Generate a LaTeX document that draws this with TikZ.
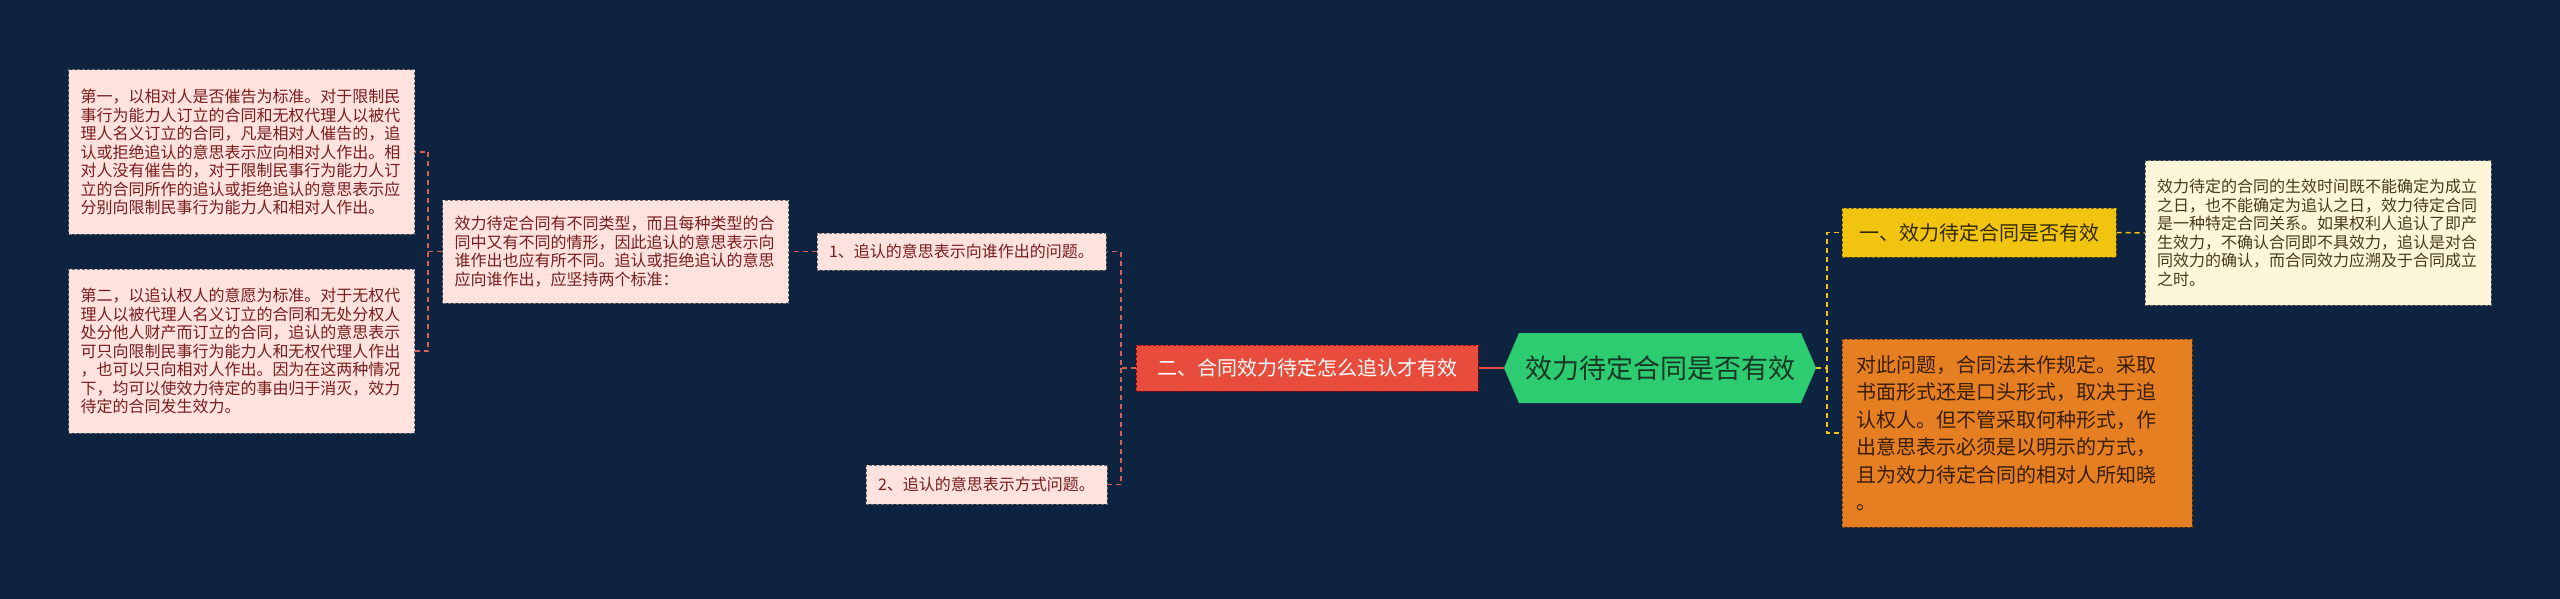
\documentclass[tikz,border=0pt]{standalone}
\usepackage{fontspec}
\newfontfamily\cjk{Noto Sans CJK SC}
\usetikzlibrary{backgrounds}
\definecolor{bg}{RGB}{14,35,64}
\definecolor{pinkfill}{RGB}{253,226,222}
\definecolor{pinktext}{RGB}{120,30,30}
\definecolor{redfill}{RGB}{231,76,60}
\definecolor{greenfill}{RGB}{46,204,113}
\definecolor{greentext}{RGB}{24,56,38}
\definecolor{yelfill}{RGB}{241,196,15}
\definecolor{yeltext}{RGB}{50,40,5}
\definecolor{paleyfill}{RGB}{253,246,216}
\definecolor{paleytext}{RGB}{70,60,25}
\definecolor{orfill}{RGB}{230,126,34}
\definecolor{ortext}{RGB}{55,30,10}
\definecolor{bordergray}{RGB}{110,110,110}
\definecolor{redline}{RGB}{214,96,84}
\tikzset{
  boxbase/.style={draw=bordergray, line width=1pt, dash pattern=on 3pt off 2pt, anchor=center},
  pinkpara/.style={boxbase, fill=pinkfill, text=pinktext, align=left, inner xsep=12pt, inner ysep=0pt,
    font=\cjk\fontsize{16}{18.5}\selectfont},
  pinkline/.style={boxbase, fill=pinkfill, text=pinktext, inner sep=0pt, font=\cjk\fontsize{16}{19}\selectfont},
  redbox/.style={boxbase, draw=red!60!black, fill=redfill, text=white, inner sep=0pt, font=\cjk\fontsize{20}{24}\selectfont},
  yelbox/.style={boxbase, draw=yelfill!50!black, fill=yelfill, text=yeltext, inner sep=0pt, font=\cjk\fontsize{20}{24}\selectfont},
  paleypara/.style={boxbase, fill=paleyfill, text=paleytext, align=left, inner xsep=12pt, inner ysep=0pt,
    font=\cjk\fontsize{16}{18.5}\selectfont},
  orpara/.style={boxbase, draw=orfill!50!black, fill=orfill, text=ortext, align=left, inner xsep=14pt, inner ysep=0pt,
    font=\cjk\fontsize{20}{27.5}\selectfont},
  redconn/.style={draw=redline, line width=1.5pt, dash pattern=on 5pt off 4pt},
  yelconn/.style={draw=yelfill, line width=1.5pt, dash pattern=on 5pt off 4pt},
}
\begin{document}
\begin{tikzpicture}[x=1pt,y=-1pt]
\begin{scope}[on background layer]
\fill[bg] (0,0) rectangle (2560,599);
\fill[greenfill] (1504,368) -- (1519,333) -- (1801,333) -- (1816,368) -- (1801,403) -- (1519,403) -- cycle;
\end{scope}
\useasboundingbox (0,0) rectangle (2560,599);

\node[pinkpara, text width=322pt, minimum height=164pt] (l1) at (241.5,152) {第一，以相对人是否催告为标准。对于限制民\\事行为能力人订立的合同和无权代理人以被代\\理人名义订立的合同，凡是相对人催告的，追\\认或拒绝追认的意思表示应向相对人作出。相\\对人没有催告的，对于限制民事行为能力人订\\立的合同所作的追认或拒绝追认的意思表示应\\分别向限制民事行为能力人和相对人作出。};

\node[pinkpara, text width=322pt, minimum height=164pt] (l2) at (241.5,351) {第二，以追认权人的意愿为标准。对于无权代\\理人以被代理人名义订立的合同和无处分权人\\处分他人财产而订立的合同，追认的意思表示\\可只向限制民事行为能力人和无权代理人作出\\，也可以只向相对人作出。因为在这两种情况\\下，均可以使效力待定的事由归于消灭，效力\\待定的合同发生效力。};

\node[pinkpara, text width=322pt, minimum height=103pt] (m) at (615.5,251.5) {效力待定合同有不同类型，而且每种类型的合\\同中又有不同的情形，因此追认的意思表示向\\谁作出也应有所不同。追认或拒绝追认的意思\\应向谁作出，应坚持两个标准：};

\node[pinkline, minimum width=289pt, minimum height=37pt] (b1) at (961.5,251.5) {1、追认的意思表示向谁作出的问题。};
\node[pinkline, minimum width=241pt, minimum height=39pt] (b2) at (986.5,484.5) {2、追认的意思表示方式问题。};

\node[redbox, minimum width=342pt, minimum height=46pt] (red) at (1307,368) {二、合同效力待定怎么追认才有效};

\node[inner sep=0pt, minimum width=312pt, minimum height=70pt, text=greentext, font=\cjk\fontsize{27}{32}\selectfont] (hex) at (1660,368) {效力待定合同是否有效};

\node[yelbox, minimum width=274pt, minimum height=49pt] (yel) at (1979,232.5) {一、效力待定合同是否有效};

\node[paleypara, text width=322pt, minimum height=144pt] (paley) at (2318,233) {效力待定的合同的生效时间既不能确定为成立\\之日，也不能确定为追认之日，效力待定合同\\是一种特定合同关系。如果权利人追认了即产\\生效力，不确认合同即不具效力，追认是对合\\同效力的确认，而合同效力应溯及于合同成立\\之时。};

\node[orpara, text width=322pt, minimum height=188pt] (or) at (2017,433) {对此问题，合同法未作规定。采取\\书面形式还是口头形式，取决于追\\认权人。但不管采取何种形式，作\\出意思表示必须是以明示的方式，\\且为效力待定合同的相对人所知晓\\。};

\coordinate (jm) at (428,251.5);
\coordinate (jr) at (1121,368);
\coordinate (jh) at (1827,368);

\draw[redconn] (m.west) -- (jm) |- (l1.east);
\draw[redconn] (jm) |- (l2.east);
\draw[redconn] (b1.west) -- (m.east);
\draw[redconn] (red.west) -- (jr) |- (b1.east);
\draw[redconn] (jr) |- (b2.east);
\draw[draw=redfill, line width=2pt] (hex.west) -- (red.east);
\draw[yelconn] (hex.east) -- (jh) |- (yel.west);
\draw[yelconn] (jh) |- (or.west);
\draw[yelconn] (yel.east) -- (paley.west);
\end{tikzpicture}
\end{document}
